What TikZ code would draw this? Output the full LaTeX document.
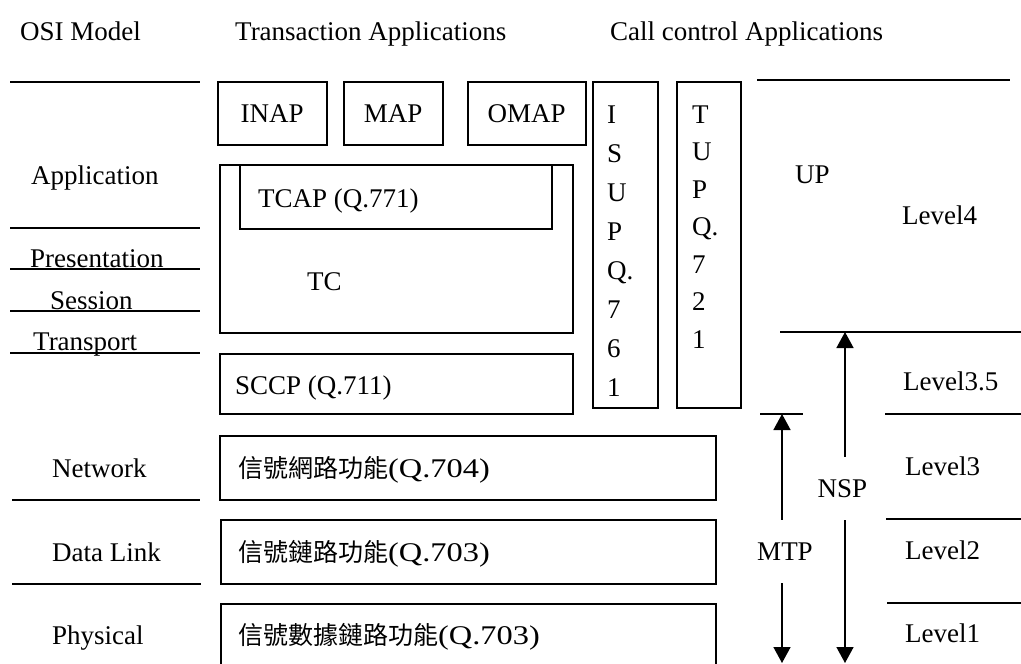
\documentclass[tikz,border=0pt]{standalone}
\usepackage{fontspec}
\setmainfont{Liberation Serif}
\newfontfamily\cjk{Noto Sans CJK TC}
\newfontfamily\widelatin[FakeStretch=1.2]{Liberation Serif}
\usetikzlibrary{arrows.meta}

% a function name: Chinese part followed by its recommendation number
\newcommand{\funcname}[2]{{\cjk\fontsize{25}{30}\selectfont #1}{\widelatin #2}}

\begin{document}
\begin{tikzpicture}[x=1pt,y=-1pt,
  every node/.style={font=\fontsize{27}{32}\selectfont, inner sep=0pt},
  lbl/.style={anchor=base west},
  rule/.style={line width=1.6pt},
  box/.style={draw, line width=1.5pt, anchor=north west},
  arr/.style={line width=1.5pt, -{Triangle[width=17pt,length=16pt]}}]

\fill[white] (0,0) rectangle (1021,664);
\clip (0,0) rectangle (1021,664);

% column headings
\node[lbl] (hosi)   at (20,40)  {OSI Model};
\node[lbl] (htrans) at (235,40) {Transaction Applications};
\node[lbl] (hcall)  at (610,40) {Call control Applications};

% OSI layers with their separating rules
\draw[rule] (10,82)  -- (200,82);
\draw[rule] (10,228) -- (200,228);
\draw[rule] (10,269) -- (200,269);
\draw[rule] (10,311) -- (200,311);
\draw[rule] (10,353) -- (200,353);
\draw[rule] (12,500) -- (200,500);
\draw[rule] (12,584) -- (201,584);

\node[lbl] (lapp)  at (31,184) {Application};
\node[lbl] (lpres) at (30,267) {Presentation};
\node[lbl] (lsess) at (50,309) {Session};
\node[lbl] (ltran) at (33,350) {Transport};
\node[lbl] (lnet)  at (52,477) {Network};
\node[lbl] (llink) at (52,561) {Data Link};
\node[lbl] (lphy)  at (52,644) {Physical};

% transaction applications
\node[box, minimum width=109pt, minimum height=63pt] (inap) at (217,81) {INAP};
\node[box, minimum width=99pt,  minimum height=63pt] (map)  at (343,81) {MAP};
\node[box, minimum width=118pt, minimum height=63pt] (omap) at (467,81) {OMAP};

\node[box, minimum width=353pt, minimum height=168pt] (tc)   at (219,164) {};
\node[box, minimum width=312pt, minimum height=64pt]  (tcap) at (239,164) {};
\node[lbl] (tcapl) at (258,207) {TCAP (Q.771)};
\node[lbl] (tcl)   at (307,290) {TC};

\node[box, minimum width=353pt, minimum height=60pt] (sccp) at (219,353) {};
\node[lbl] (sccpl) at (235,394) {SCCP (Q.711)};

% call control applications
\node[box, minimum width=65pt, minimum height=326pt] (isup) at (592,81) {};
\node[box, minimum width=64pt, minimum height=326pt] (tup)  at (676,81) {};
\foreach \c [count=\i from 0] in {I,S,U,P,Q.,7,6,1}
  \node[lbl] (isup-\i) at (607,{123+39*\i}) {\c};
\foreach \c [count=\i from 0] in {T,U,P,Q.,7,2,1}
  \node[lbl] (tup-\i) at (692,{123+37.5*\i}) {\c};

% message transfer part
\node[box, minimum width=496pt, minimum height=64pt] (snf)  at (219,435) {};
\node[box, minimum width=495pt, minimum height=64pt] (slf)  at (220,519) {};
\node[box, minimum width=495pt, minimum height=80pt] (sdlf) at (220,603) {};
\node[lbl] (snfl)  at (238,477) {\funcname{信號網路功能}{(Q.704)}};
\node[lbl] (slfl)  at (238,561) {\funcname{信號鏈路功能}{(Q.703)}};
\node[lbl] (sdlfl) at (238,644) {\funcname{信號數據鏈路功能}{(Q.703)}};

% user part and levels
\draw[rule] (757,80)  -- (1010,80);
\draw[rule] (780,332) -- (1021,332);
\draw[rule] (760,414) -- (803,414);
\draw[rule] (885,414) -- (1021,414);
\draw[rule] (886,519) -- (1021,519);
\draw[rule] (887,603) -- (1021,603);

\node[lbl] (up)   at (795,183) {UP};
\node[lbl] (lv4)  at (902,224) {Level4};
\node[lbl] (lv35) at (903,390) {Level3.5};
\node[lbl] (lv3)  at (905,475) {Level3};
\node[lbl] (lv2)  at (905,559) {Level2};
\node[lbl] (lv1)  at (905,642) {Level1};

% NSP and MTP extents
\coordinate (nsptop) at (845,332);
\coordinate (nspbot) at (845,663);
\node[minimum height=63pt] (nsp) at (842.5,488.5) {NSP};
\draw[arr] (nsp.north -| nsptop) -- (nsptop);
\draw[arr] (nsp.south -| nspbot) -- (nspbot);

\coordinate (mtptop) at (782,414);
\coordinate (mtpbot) at (782,663);
\node[minimum height=63pt] (mtp) at (785,551.5) {MTP};
\draw[arr] (mtp.north -| mtptop) -- (mtptop);
\draw[arr] (mtp.south -| mtpbot) -- (mtpbot);

\end{tikzpicture}
\end{document}
